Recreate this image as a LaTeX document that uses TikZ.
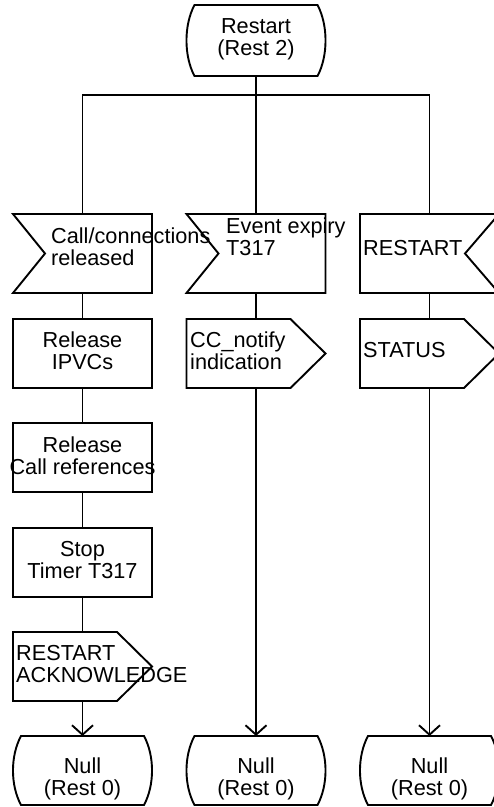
\documentclass[tikz,border=0pt]{standalone}
\usepackage{fontspec}
\setmainfont{Liberation Sans}
\usetikzlibrary{arrows.meta}

\begin{document}
\begin{tikzpicture}[
    x=1pt, y=-1pt,
    % Style for the symbol frames (outline drawn below)
    frame/.style={
        rectangle,
        draw=none,
        inner sep=0pt,
        outer sep=0pt,
        minimum width=139pt,
        minimum height=69pt
    },
    % Style for the texts in the symbols
    sdlText/.style={
        font=\fontsize{21.7}{22}\selectfont,
        inner sep=0pt,
        align=left
    },
    % Style for the outlines
    outline/.style={
        draw=black,
        line width=1.9pt,
        line join=miter
    },
    % Style for the flow lines
    flowLine/.style={
        draw=black,
        line width=1.9pt
    },
    % Style for the arrows into the next states
    flowArrow/.style={
        flowLine,
        -{Straight Barb[length=9.5pt, width=21pt]}
    }
]
    \useasboundingbox (0,0) rectangle (494,807);

    % --- COORDINATES ---
    \def\colA{82.5}
    \def\colB{256}
    \def\colC{429.5}

    % --- OUTLINE MACROS ---
    \def\stateOutline#1{\draw[outline] ([xshift=8pt]#1.north west) -- ([xshift=-8pt]#1.north east)
        .. controls +(10.7,20) and +(10.7,-20) .. ([xshift=-8pt]#1.south east)
        -- ([xshift=8pt]#1.south west)
        .. controls +(-10.7,-20) and +(-10.7,20) .. cycle;}
    \def\inputLeft#1{\draw[outline] (#1.north west) -- (#1.north east) -- (#1.south east)
        -- (#1.south west) -- ([xshift=32pt]#1.west) -- cycle;}
    \def\inputRight#1{\draw[outline] (#1.north west) -- (#1.north east) -- ([xshift=-34pt]#1.east)
        -- (#1.south east) -- (#1.south west) -- cycle;}
    \def\outputRight#1{\draw[outline] (#1.north west) -- ([xshift=-35pt]#1.north east) -- (#1.east)
        -- ([xshift=-35pt]#1.south east) -- (#1.south west) -- cycle;}
    \def\taskBox#1{\draw[outline] (#1.north west) rectangle (#1.south east);}

    % --- START STATE ---
    \node[frame, minimum height=71pt] (rest2) at (\colB, 40.5) {};
    \stateOutline{rest2}
    \node[sdlText, anchor=north, align=center] (rest2Txt) at (\colB, 18.5) {Restart\\(Rest 2)};

    % --- INPUTS ---
    \node[frame, minimum height=79pt] (inCall) at (\colA, 253.5) {};
    \node[frame, minimum height=79pt] (inExpiry) at (\colB, 253.5) {};
    \node[frame, minimum height=79pt] (inRestart) at (\colC, 253.5) {};
    \inputLeft{inCall}
    \inputLeft{inExpiry}
    \inputRight{inRestart}
    \node[sdlText, anchor=north west] (inCallTxt) at (51, 228) {Call/connections\\released};
    \node[sdlText, anchor=north west] (inExpiryTxt) at (226, 218) {Event expiry\\T317};
    \node[sdlText, anchor=north west] (inRestartTxt) at (363, 240) {RESTART};

    % --- LEFT BRANCH ---
    \node[frame] (relIPVC) at (\colA, 353.5) {};
    \node[frame] (relCallRef) at (\colA, 457.5) {};
    \node[frame] (stopTimer) at (\colA, 562.5) {};
    \node[frame] (outRestAck) at (\colA, 666.5) {};
    \taskBox{relIPVC}
    \taskBox{relCallRef}
    \taskBox{stopTimer}
    \outputRight{outRestAck}
    \node[sdlText, anchor=north, align=center] (relIPVCTxt) at (\colA, 332) {Release\\IPVCs};
    \node[sdlText, anchor=north, align=center] (relCallRefTxt) at (\colA, 437) {Release\\Call references};
    \node[sdlText, anchor=north, align=center] (stopTimerTxt) at (\colA, 541.5) {Stop\\Timer T317};
    \node[sdlText, anchor=north west] (outRestAckTxt) at (16, 645) {RESTART\\ACKNOWLEDGE};

    % --- MIDDLE AND RIGHT OUTPUTS ---
    \node[frame] (outNotify) at (\colB, 353.5) {};
    \node[frame] (outStatus) at (\colC, 353.5) {};
    \outputRight{outNotify}
    \outputRight{outStatus}
    \node[sdlText, anchor=north west] (outNotifyTxt) at (190, 331.5) {CC\_notify\\indication};
    \node[sdlText, anchor=north west] (outStatusTxt) at (363, 341.7) {STATUS};

    % --- NEXT STATES ---
    \node[frame] (nullA) at (\colA, 770.5) {};
    \node[frame] (nullB) at (\colB, 770.5) {};
    \node[frame] (nullC) at (\colC, 770.5) {};
    \stateOutline{nullA}
    \stateOutline{nullB}
    \stateOutline{nullC}
    \node[sdlText, anchor=north, align=center] (nullATxt) at (\colA, 758) {Null\\(Rest 0)};
    \node[sdlText, anchor=north, align=center] (nullBTxt) at (\colB, 758) {Null\\(Rest 0)};
    \node[sdlText, anchor=north, align=center] (nullCTxt) at (\colC, 758) {Null\\(Rest 0)};

    % --- FLOW LINES ---
    \coordinate (busA) at (\colA, 95);
    \coordinate (busB) at (\colB, 95);
    \coordinate (busC) at (\colC, 95);
    \draw[flowLine] (rest2.south) -- (busB);
    \draw[flowLine] (inCall.north) -- (busA) -- (busC) -- (inRestart.north);
    \draw[flowLine] (busB) -- (inExpiry.north);

    \draw[flowLine] (inCall.south) -- (relIPVC.north);
    \draw[flowLine] (relIPVC.south) -- (relCallRef.north);
    \draw[flowLine] (relCallRef.south) -- (stopTimer.north);
    \draw[flowLine] (stopTimer.south) -- (outRestAck.north);
    \draw[flowArrow] (outRestAck.south) -- (nullA.north);

    \draw[flowLine] (inExpiry.south) -- (outNotify.north);
    \draw[flowArrow] (outNotify.south) -- (nullB.north);

    \draw[flowLine] (inRestart.south) -- (outStatus.north);
    \draw[flowArrow] (outStatus.south) -- (nullC.north);

\end{tikzpicture}
\end{document}
